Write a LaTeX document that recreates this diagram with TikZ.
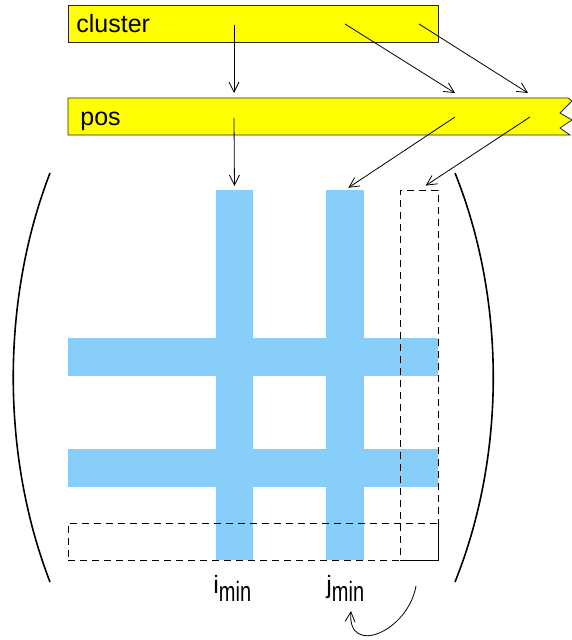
\documentclass[tikz,border=0pt]{standalone}
\usepackage{fontspec}
\setmainfont{Liberation Sans}
\usetikzlibrary{arrows.meta}

\definecolor{baryellow}{RGB}{255,255,0}
\definecolor{rowblue}{RGB}{135,206,250}

\tikzset{
	bar/.style={draw=black!85, fill=baryellow, line width=0.8pt},
	band/.style={fill=rowblue, inner sep=0pt, outer sep=0pt, anchor=north west},
	window/.style={draw, line width=0.9pt, dash pattern=on 7pt off 5pt, inner sep=0pt, outer sep=0pt, anchor=north west},
	lbl/.style={font=\fontsize{25}{30}\selectfont, inner sep=0pt, anchor=base west},
	paren/.style={line width=1.6pt},
}
\newcommand{\idxmin}[1]{#1\raisebox{-8pt}{\scalebox{1}[1.4]{\fontsize{20}{22}\selectfont min}}}

\begin{document}
\begin{tikzpicture}[x=1pt, y=-1pt, >={Straight Barb[length=10pt,width=10pt]}, line width=0.8pt]
			\useasboundingbox (0,0) rectangle (572,640);

			% the two index arrays
			\node	(cluster) at (68,5) [bar, anchor=north west, minimum width=370pt, minimum height=37pt, inner sep=0pt] {};
			\node	at (76,32) [lbl] {cluster};
			\draw[bar] (68,98) -- (568,98) -- (572,101) -- (560,113) -- (572,120) -- (560,128) -- (570,135) -- (68,135) -- cycle;
			\node	(pos) at (80,125) [lbl] {pos};

			% matrix
			\node	(rowA) at (68,338) [band, minimum width=370pt, minimum height=38pt] {};
			\node	(rowB) at (68,449) [band, minimum width=370pt, minimum height=38pt] {};
			\node	(colI) at (216,190) [band, minimum width=37pt, minimum height=370pt] {};
			\node	(colJ) at (326,190) [band, minimum width=38pt, minimum height=370pt] {};
			\node	(colK) at (400,190) [window, minimum width=38pt, minimum height=370pt] {};
			\node	(rowK) at (68,523) [window, minimum width=370pt, minimum height=37pt] {};
			\draw (colK.south west) -- (colK.south east) -- (rowK.north east);

			\draw[paren] (50,173) .. controls (1,300) and (1,455) .. (50,582);
			\draw[paren] (455,173) .. controls (506,300) and (506,455) .. (455,582);

			\node	(imin) at (213,593) [lbl] {\idxmin{i}};
			\node	(jmin) at (326,593) [lbl] {\idxmin{j}};

			% arrow end points
			\coordinate (c1) at (234,25);
			\coordinate (c2) at (345,24);
			\coordinate (c3) at (419,24);
			\coordinate (p1) at (234,118);
			\coordinate (p2) at (455,117);
			\coordinate (p3) at (530,117);
			\coordinate (t1) at (234,93);
			\coordinate (t2) at (455,93);
			\coordinate (t3) at (528,93);
			\coordinate (s1) at (416,586);
			\coordinate (s2) at (351,611);

			\draw
			(c1) edge[->] (t1)
			(c2) edge[->] (t2)
			(c3) edge[->] (t3)
			(p1) edge[->, shorten >=4pt] (colI.north)
			(p2) edge[->, shorten >=4pt] (colJ.north)
			(p3) edge[->, shorten >=8pt] (colK.north)
			(s1) edge[->, out=-100, in=-95, looseness=1.7] (s2)
			;
		\end{tikzpicture}
\end{document}
